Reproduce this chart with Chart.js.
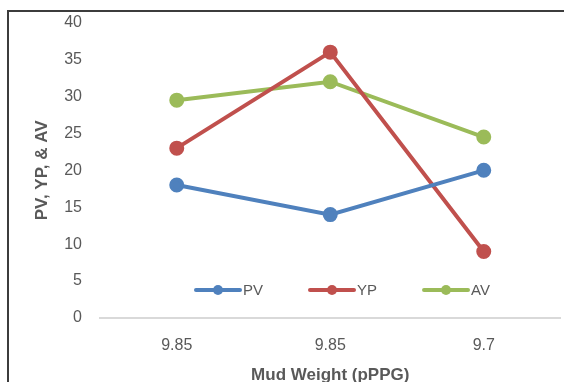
<!DOCTYPE html>
<html>
<head>
<meta charset="utf-8">
<script src="https://cdn.jsdelivr.net/npm/chart.js@4"></script>
<style>
  html, body { margin: 0; padding: 0; background: #fff; overflow: hidden; }
  #wrap { position: relative; width: 564px; height: 382px; overflow: hidden; }
  #frame {
    position: absolute; left: 7px; top: 10px; width: 600px; height: 400px;
    border-left: 2px solid #3c3c3c; border-top: 2px solid #3c3c3c;
    box-sizing: border-box; pointer-events: none;
  }
  canvas { position: absolute; left: 0; top: -5px; }
</style>
</head>
<body>
<div id="wrap">
  <canvas id="chart" width="570" height="391"></canvas>
  <div id="frame"></div>
</div>
<script>
// Data
const categories = ["9.85", "9.85", "9.7"];
const pvValues = [18, 14, 20];
const ypValues = [23, 36, 9];
const avValues = [29.5, 32, 24.5];
const yTicks = [0, 5, 10, 15, 20, 25, 30, 35, 40];

const blue = "#4F81BD";
const red = "#C0504D";
const green = "#9BBB59";
const textGray = "#595959";
const fontFamily = "'Liberation Sans', Arial, sans-serif";

// Excel-style legend drawn inside the plot area
const insideLegend = {
    id: "insideLegend",
    afterDraw(chart) {
        const ctx = chart.ctx;
        const y = 295;
        let x = 196;
        ctx.save();
        ctx.font = "15px " + fontFamily;
        ctx.textBaseline = "middle";
        chart.data.datasets.forEach((ds) => {
            ctx.strokeStyle = ds.borderColor;
            ctx.lineWidth = 4;
            ctx.lineCap = "round";
            ctx.beginPath();
            ctx.moveTo(x, y);
            ctx.lineTo(x + 44, y);
            ctx.stroke();
            ctx.fillStyle = ds.borderColor;
            ctx.beginPath();
            ctx.arc(x + 22, y, 5, 0, Math.PI * 2);
            ctx.fill();
            ctx.fillStyle = textGray;
            ctx.fillText(ds.label, x + 47, y + 1);
            x += 47 + ctx.measureText(ds.label).width + 47;
        });
        ctx.restore();
    },
};

const makeSet = (label, data, color) => ({
    label,
    data,
    borderColor: color,
    backgroundColor: color,
    borderWidth: 4,
    pointRadius: 5.5,
    pointHoverRadius: 5.5,
    pointBackgroundColor: color,
    pointBorderColor: color,
    tension: 0,
});

new Chart(document.getElementById("chart"), {
    type: "line",
    data: {
        labels: categories,
        datasets: [
            makeSet("PV", pvValues, blue),
            makeSet("YP", ypValues, red),
            makeSet("AV", avValues, green),
        ],
    },
    options: {
        responsive: false,
        animation: false,
        events: [],
        layout: { padding: { top: 7, right: 0, left: 0, bottom: 0 } },
        plugins: {
            legend: { display: false },
            tooltip: { enabled: false },
        },
        scales: {
            x: {
                offset: true,
                grid: { display: false, drawTicks: false },
                border: { display: true, color: "#D9D9D9", width: 2 },
                ticks: {
                    color: textGray,
                    font: { family: fontFamily, size: 16 },
                    padding: 18,
                    maxRotation: 0,
                },
                title: {
                    display: true,
                    text: "Mud Weight (pPPG)",
                    color: textGray,
                    font: { family: fontFamily, size: 17, weight: "bold" },
                    padding: { top: 10, bottom: 0 },
                },
                afterFit(scale) { scale.height = 68; },
            },
            y: {
                min: 0,
                max: 40,
                afterBuildTicks(scale) {
                    scale.ticks = yTicks.map((v) => ({ value: v }));
                },
                grid: { display: false, drawTicks: false },
                border: { display: false },
                ticks: {
                    color: textGray,
                    font: { family: fontFamily, size: 16 },
                    padding: 18,
                },
                title: {
                    display: true,
                    text: "PV, YP, & AV",
                    color: textGray,
                    font: { family: fontFamily, size: 17, weight: "bold" },
                    padding: { top: 32, bottom: 6 },
                },
                afterFit(scale) { scale.width = 100; },
            },
        },
    },
    plugins: [insideLegend],
});
</script>
</body>
</html>
